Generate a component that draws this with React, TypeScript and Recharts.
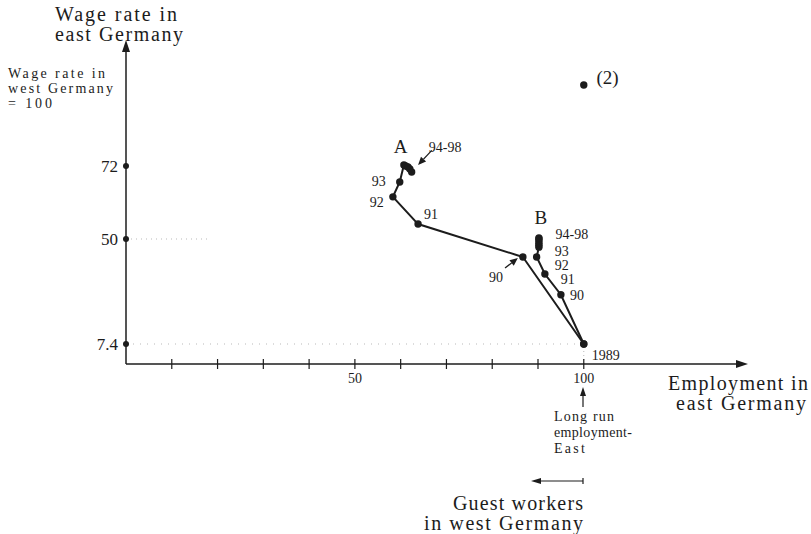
import React from "react";
import {
  ComposedChart,
  Scatter,
  XAxis,
  YAxis,
  ReferenceLine,
} from "recharts";

const INK = "#1c1c1c";
const FAINT = "#b9b9b9";
const SERIF = "'Liberation Serif', 'DejaVu Serif', serif";

// The book's wage axis is not drawn to scale: the three marked wages sit at
// these heights (px above the employment axis). Everything in between is
// interpolated piece by piece.
const WAGE_TICKS = [7.4, 50, 72];
const TICK_LEVELS = [20, 125, 198];

function toLevel(w: number) {
  const ws = [0, ...WAGE_TICKS];
  const ls = [0, ...TICK_LEVELS];
  let i = 0;
  while (i < ws.length - 2 && w > ws[i + 1]) i++;
  return ls[i] + ((w - ws[i]) * (ls[i + 1] - ls[i])) / (ws[i + 1] - ws[i]);
}

// Path A: 1989, 90, 91, 92, 93, 94..98
const pathAEmp = [100, 86.7, 63.8, 58.3, 59.8, 60.7, 61.1, 61.6, 62.0, 62.4];
const pathAWage = [7.4, 42.7, 54.5, 62.7, 67.2, 72.3, 72.0, 71.7, 71.1, 70.2];

// Path B: 1989, 90, 91, 92, 93, 94..98
const pathBEmp = [100, 95.0, 91.5, 89.7, 90.2, 90.2, 90.2, 90.2, 90.2, 90.2];
const pathBWage = [7.4, 27.4, 35.8, 42.7, 46.7, 47.5, 48.3, 49.2, 50.0, 50.3];

// point (2)
const pointTwoEmp = [100];
const pointTwoWage = [96.4];

const xTicks = [10, 20, 30, 40, 50, 60, 70, 80, 90, 100];
const xTickLabels = ["", "", "", "", "50", "", "", "", "", "100"];

// annotations placed in data units (employment, wage)
const noteText = ["A", "94-98", "93", "92", "91", "90", "B", "94-98", "93", "92", "91", "90", "1989", "(2)"];
const noteEmp = [60.0, 69.7, 55.2, 54.8, 66.6, 80.8, 90.6, 97.4, 95.2, 95.2, 96.5, 98.5, 104.8, 105.2];
const noteWage = [78.0, 77.7, 67.2, 61.1, 57.5, 34.3, 56.6, 51.3, 44.8, 39.3, 33.6, 27.2, 3.0, 98.8];
const noteBig = ["A", "B", "(2)"];

// arrows: [tail, tip] in data units
const arrowFromEmp = [66.8, 82.8];
const arrowFromWage = [76.7, 38.2];
const arrowToEmp = [63.8, 85.6];
const arrowToWage = [72.3, 42.3];

const toPoints = (emp: number[], wage: number[]) =>
  emp.map((x, i) => ({ x, y: toLevel(wage[i]) }));

const pathA = toPoints(pathAEmp, pathAWage);
const pathB = toPoints(pathBEmp, pathBWage);
const pointTwo = toPoints(pointTwoEmp, pointTwoWage);
const notes = noteText.map((t, i) => ({ x: noteEmp[i], y: toLevel(noteWage[i]), t }));

const Dot = (p: any) => <circle cx={p.cx} cy={p.cy} r={3.7} fill={INK} />;

const Note = (p: any) => {
  const big = noteBig.includes(p.payload.t);
  return (
    <text
      x={p.cx}
      y={p.cy}
      textAnchor="middle"
      dominantBaseline="central"
      fontFamily={SERIF}
      fontSize={big ? 19 : 14}
      fill={INK}
    >
      {p.payload.t}
    </text>
  );
};

const Arrow = (p: any) => {
  const { x1, y1, x2, y2 } = p;
  const a = Math.atan2(y2 - y1, x2 - x1);
  const L = 8;
  const W = 3.5;
  const bx = x2 - L * Math.cos(a);
  const by = y2 - L * Math.sin(a);
  const nx = -Math.sin(a) * W;
  const ny = Math.cos(a) * W;
  return (
    <g>
      <line x1={x1} y1={y1} x2={bx} y2={by} stroke={INK} strokeWidth={1.3} />
      <polygon points={`${x2},${y2} ${bx + nx},${by + ny} ${bx - nx},${by - ny}`} fill={INK} />
    </g>
  );
};

const XTick = (p: any) => {
  const i = xTicks.indexOf(p.payload.value);
  return (
    <g>
      <line x1={p.x} x2={p.x} y1={p.y - 5} y2={p.y + 5} stroke={INK} strokeWidth={1.2} />
      <text x={p.x} y={p.y + 19} textAnchor="middle" fontFamily={SERIF} fontSize={14} fill={INK}>
        {xTickLabels[i]}
      </text>
    </g>
  );
};

const YTick = (p: any) => {
  const i = TICK_LEVELS.indexOf(p.payload.value);
  return (
    <g>
      <circle cx={p.x} cy={p.y} r={3} fill={INK} />
      <text x={p.x - 8} y={p.y + 6} textAnchor="end" fontFamily={SERIF} fontSize={17} fill={INK}>
        {WAGE_TICKS[i]}
      </text>
    </g>
  );
};

function Overlay() {
  const t = { fontFamily: SERIF, fill: INK };
  return (
    <svg
      width={811}
      height={534}
      style={{ position: "absolute", left: 0, top: 0, pointerEvents: "none" }}
    >
      {/* axis arrowheads */}
      <polygon points="126,40 122,52 130,52" fill={INK} />
      <polygon points="748,364 736,360 736,368" fill={INK} />

      <text x={55} y={21} fontSize={20} textLength={122} lengthAdjust="spacing" {...t}>Wage rate in</text>
      <text x={55} y={41} fontSize={20} textLength={128} lengthAdjust="spacing" {...t}>east Germany</text>

      <text x={8} y={78} fontSize={14} textLength={97} lengthAdjust="spacing" {...t}>Wage rate in</text>
      <text x={8} y={93} fontSize={14} textLength={105} lengthAdjust="spacing" {...t}>west Germany</text>
      <text x={8} y={108} fontSize={14} textLength={44} lengthAdjust="spacing" {...t}>= 100</text>

      <text x={668} y={390} fontSize={20} textLength={140} lengthAdjust="spacing" {...t}>Employment in</text>
      <text x={676} y={410} fontSize={20} textLength={130} lengthAdjust="spacing" {...t}>east Germany</text>

      <line x1={583} x2={583} y1={407} y2={394} stroke={INK} strokeWidth={1.2} />
      <polygon points="583,387 580,396 586,396" fill={INK} />
      <text x={554} y={421} fontSize={14} textLength={60} lengthAdjust="spacing" {...t}>Long run</text>
      <text x={554} y={437} fontSize={14} textLength={78} lengthAdjust="spacing" {...t}>employment-</text>
      <text x={554} y={453} fontSize={14} textLength={31} lengthAdjust="spacing" {...t}>East</text>

      <line x1={540} x2={583} y1={481} y2={481} stroke={INK} strokeWidth={1.2} />
      <line x1={583} x2={583} y1={478} y2={484} stroke={INK} strokeWidth={1.2} />
      <polygon points="531,481 541,478 541,484" fill={INK} />
      <text x={453} y={510} fontSize={20} textLength={130} lengthAdjust="spacing" {...t}>Guest workers</text>
      <text x={424} y={530} fontSize={20} textLength={159} lengthAdjust="spacing" {...t}>in west Germany</text>
    </svg>
  );
}

export default function App() {
  return (
    <div style={{ position: "absolute", left: 0, top: 0, width: 811, height: 534, background: "#fff" }}>
      <ComposedChart
        width={811}
        height={534}
        margin={{ top: 44, right: 67, bottom: 140, left: 0 }}
      >
        <XAxis
          type="number"
          dataKey="x"
          domain={[0, 135]}
          ticks={xTicks}
          interval={0}
          height={30}
          tickSize={0}
          tickMargin={0}
          tickLine={false}
          axisLine={{ stroke: INK, strokeWidth: 1.5 }}
          tick={<XTick />}
          allowDataOverflow
        />
        <YAxis
          type="number"
          dataKey="y"
          domain={[0, 320]}
          ticks={TICK_LEVELS}
          interval={0}
          width={126}
          tickSize={0}
          tickMargin={0}
          tickLine={false}
          axisLine={{ stroke: INK, strokeWidth: 1.5 }}
          tick={<YTick />}
          allowDataOverflow
        />

        <ReferenceLine
          segment={[{ x: 0, y: toLevel(7.4) }, { x: 100, y: toLevel(7.4) }]}
          stroke={FAINT}
          strokeDasharray="1 6"
        />
        <ReferenceLine
          segment={[{ x: 0, y: toLevel(50) }, { x: 18, y: toLevel(50) }]}
          stroke={FAINT}
          strokeDasharray="1 4"
        />
        <ReferenceLine
          segment={[{ x: 100, y: 0 }, { x: 100, y: toLevel(7.4) }]}
          stroke={FAINT}
          strokeDasharray="1 3"
        />

        <Scatter
          data={pathA}
          fill={INK}
          line={{ stroke: INK, strokeWidth: 2 }}
          shape={Dot}
          isAnimationActive={false}
        />
        <Scatter
          data={pathB}
          fill={INK}
          line={{ stroke: INK, strokeWidth: 2 }}
          shape={Dot}
          isAnimationActive={false}
        />
        <Scatter data={pointTwo} fill={INK} shape={Dot} isAnimationActive={false} />
        <Scatter data={notes} shape={Note} isAnimationActive={false} />

        {arrowFromEmp.map((_, i) => (
          <ReferenceLine
            key={i}
            segment={[
              { x: arrowFromEmp[i], y: toLevel(arrowFromWage[i]) },
              { x: arrowToEmp[i], y: toLevel(arrowToWage[i]) },
            ]}
            shape={Arrow}
          />
        ))}
      </ComposedChart>
      <Overlay />
    </div>
  );
}
